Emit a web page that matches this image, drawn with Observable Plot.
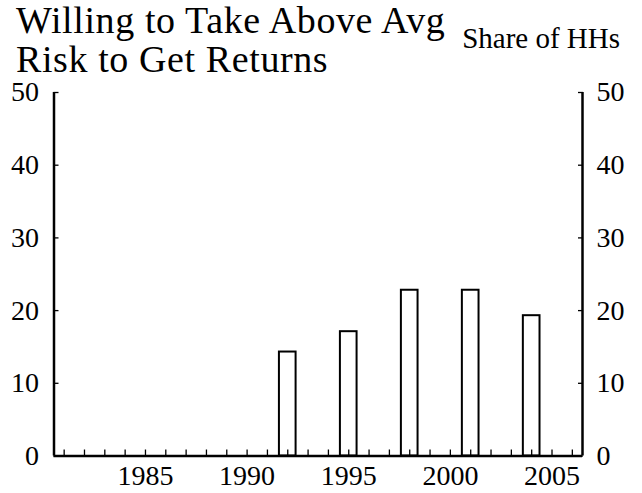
<!DOCTYPE html>
<html>
<head>
<meta charset="utf-8">
<script src="https://cdn.jsdelivr.net/npm/d3@7"></script>
<script src="https://cdn.jsdelivr.net/npm/@observablehq/plot@0.6"></script>
<style>
  html, body { margin: 0; padding: 0; background: #fff; }
  #wrap { position: relative; width: 642px; height: 493px; overflow: hidden; font-family: "Liberation Serif", "Times New Roman", serif; color: #000; }
  .title { position: absolute; left: 16px; font-size: 38px; line-height: 38px; letter-spacing: 0.6px; white-space: nowrap; }
  #t1 { top: 1px; }
  #t2 { top: 40px; }
  #unit { position: absolute; right: 22px; top: 21.5px; font-size: 29px; line-height: 33px; white-space: nowrap; }
  #chart { position: absolute; left: 0; top: 80px; }
  #chart svg { overflow: visible; }
</style>
</head>
<body>
<div id="wrap">
  <div class="title" id="t1">Willing to Take Above Avg</div>
  <div class="title" id="t2">Risk to Get Returns</div>
  <div id="unit">Share of HHs</div>
  <div id="chart"></div>
</div>
<script>
const surveyYears = [1992, 1995, 1998, 2001, 2004];
const shareOfHHs = [14.3, 17.1, 22.8, 22.8, 19.3];
const xDomain = [1980.5, 2006.5];
const yDomain = [0, 50];
const yTicks = [0, 10, 20, 30, 40, 50];
const xMinorTicks = d3.range(1981, 2007);
const xLabelTicks = [1985, 1990, 1995, 2000, 2005];
const halfBar = 0.41;

const data = surveyYears.map((y, i) => ({year: y, value: shareOfHHs[i]}));

const plot = Plot.plot({
  width: 642,
  height: 413,
  marginTop: 12,
  marginBottom: 37.5,
  marginLeft: 53.5,
  marginRight: 60,
  style: {fontFamily: "Liberation Serif, Times New Roman, serif", fontSize: "28px", color: "#000", background: "transparent"},
  x: {domain: xDomain, axis: null},
  y: {domain: yDomain, axis: null},
  marks: [
    Plot.rectY(data, {x1: d => d.year - halfBar, x2: d => d.year + halfBar, y1: 0, y2: "value", fill: "white", stroke: "black", strokeWidth: 2}),
    Plot.axisX({ticks: xMinorTicks, tickSize: -6, tickFormat: () => "", label: null, strokeWidth: 1.3}),
    Plot.axisX({ticks: xLabelTicks, tickSize: 0, tickPadding: 9.5, tickFormat: d => String(d), label: null, fontSize: 28}),
    Plot.axisY({anchor: "left", ticks: yTicks, tickSize: -5, tickFormat: () => "", label: null, strokeWidth: 1.3}),
    Plot.axisY({anchor: "left", ticks: yTicks, tickSize: 0, tickPadding: 15, label: null, fontSize: 28}),
    Plot.axisY({anchor: "right", ticks: yTicks, tickSize: -5, tickFormat: () => "", label: null, strokeWidth: 1.3}),
    Plot.axisY({anchor: "right", ticks: yTicks, tickSize: 0, tickPadding: 14, label: null, fontSize: 28}),
    Plot.ruleY([yDomain[0]], {stroke: "black", strokeWidth: 2.5}),
    Plot.ruleX(xDomain, {y1: yDomain[0], y2: yDomain[1], stroke: "black", strokeWidth: 2.5})
  ]
});
document.getElementById("chart").appendChild(plot);
</script>
</body>
</html>
